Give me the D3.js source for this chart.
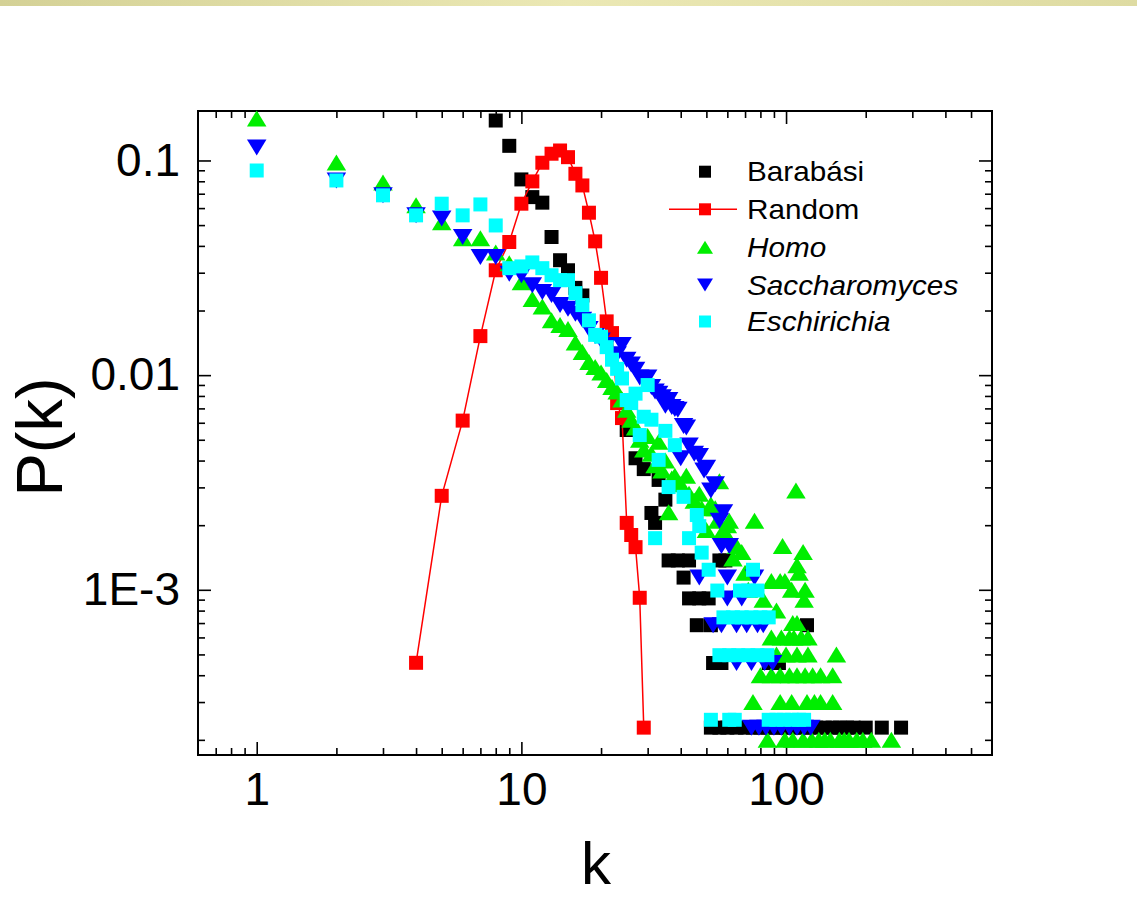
<!DOCTYPE html>
<html>
<head>
<meta charset="utf-8">
<script src="https://cdn.jsdelivr.net/npm/d3@7"></script>
<style>
  body { margin: 0; background: #fff; }
  svg { display: block; }
</style>
</head>
<body>
<svg id="chart" width="1137" height="899"></svg>
<script>
// Degree distributions P(k): each entry is [k, P(k)]
const barabasi = [
  [8,0.1535],[9,0.117],[10,0.0816],[11,0.0675],[12,0.0636],[13,0.044],[14,0.0343],[15,0.0308],
  [16,0.0255],[17,0.0235],[25,0.00555],[27,0.0041],[29,0.00365],[31,0.00228],[32,0.00205],
  [33,0.00325],[35,0.00263],[36,0.00137],[39,0.00137],[43,0.00137],[56,0.00137],[59,0.00137],
  [41,0.00114],[43,0.000912],[47,0.000912],[51,0.000912],[46,0.000684],[52,0.000684],[120,0.000684],
  [53,0.000456],[57,0.000456],[86,0.000456],[94,0.000456],
  [52,0.000228],[56,0.000228],[60,0.000228],[65,0.000228],[70,0.000228],[75,0.000228],[80,0.000228],
  [85,0.000228],[90,0.000228],[95,0.000228],[100,0.000228],[107,0.000228],[115,0.000228],
  [122,0.000228],[130,0.000228],[140,0.000228],[150,0.000228],[160,0.000228],[170,0.000228],
  [180,0.000228],[200,0.000228],[230,0.000228],[272,0.000228]
];

const random = [
  [4,0.000457],[5,0.00274],[6,0.00614],[7,0.0152],[8,0.0308],[9,0.0417],[10,0.0629],[11,0.0799],
  [12,0.0976],[13,0.1075],[14,0.1113],[15,0.1036],[16,0.0867],[17,0.0765],[18,0.0571],[19,0.042],
  [20,0.0284],[21,0.0178],[22,0.0157],[23,0.00741],[24,0.00631],[25,0.00205],[26,0.0018],
  [27,0.00158],[28,0.000918],[29,0.000228]
];

const homo = [
  [1,0.157],[2,0.0979],[3,0.079],[4,0.0618],[5,0.0515],[6,0.0434],[7,0.0434],[8,0.0373],[9,0.0332],
  [10,0.0271],[11,0.0226],[12,0.0209],[13,0.018],[14,0.0171],[15,0.0164],[16,0.0142],[17,0.0128],
  [18,0.0115],[19,0.0109],[20,0.0103],[21,0.0095],[22,0.0088],[23,0.0084],[24,0.0077],[25,0.0069],
  [26,0.0062],[27,0.0057],[28,0.005],[29,0.0045],[30,0.0052],[31,0.0043],[32,0.0038],[33,0.0049],
  [34,0.0036],[35,0.004],[36,0.0023],[37,0.0033],[38,0.0034],[40,0.0031],[42,0.0034],[43,0.0028],
  [45,0.0026],[47,0.0028],[48,0.0024],[50,0.0019],[52,0.0025],[54,0.0024],[55,0.0021],[56,0.0032],
  [58,0.0019],[60,0.002],[61,0.0021],[63,0.0014],[65,0.0016],[68,0.0015],[70,0.0012],[72,0.001],
  [76,0.0021],[97,0.0016],[109,0.0029],[116,0.0015],[110,0.0013],[112,0.0012],
  [88,0.0011],[95,0.0011],[99,0.0011],[105,0.001],[118,0.001],[82,0.0009],[117,0.0009],[92,0.0008],
  [106,0.0007],[110,0.0007],
  [88,0.0006],[96,0.0006],[103,0.0006],[107,0.0006],[114,0.0006],[121,0.0006],
  [92,0.0005],[100,0.0005],[110,0.0005],[121,0.0005],[155,0.0005],
  [80,0.0004],[88,0.0004],[95,0.0004],[103,0.0004],[110,0.0004],[118,0.0004],[126,0.0004],[135,0.0004],[150,0.0004],
  [75,0.0003],[95,0.0003],[105,0.0003],[120,0.0003],[128,0.0003],[135,0.0003],[150,0.0003],
  [85,0.0002],[99,0.0002],[106,0.0002],[116,0.0002],[125,0.0002],[133,0.0002],[140,0.0002],[147,0.0002],
  [159,0.0002],[166,0.0002],[173,0.0002],[185,0.0002],[195,0.0002],[210,0.0002],[250,0.0002]
];

const saccharomyces = [
  [1,0.115],[2,0.0807],[3,0.0688],[4,0.0555],[5,0.0536],[6,0.044],[7,0.0355],[8,0.0355],[9,0.0297],
  [10,0.0292],[11,0.0262],[12,0.0244],[13,0.0236],[14,0.0212],[15,0.0204],[16,0.0193],[17,0.0181],
  [18,0.0164],[19,0.0152],[20,0.0145],[21,0.0138],[22,0.0123],[23,0.0125],[24,0.0138],[25,0.0118],
  [26,0.0112],[27,0.0106],[28,0.00975],[29,0.0095],[30,0.00975],[31,0.0088],[32,0.0084],[33,0.0082],
  [34,0.00788],[35,0.0072],[36,0.00766],[37,0.0071],[38,0.00696],[39,0.0069],[40,0.0041],[41,0.0058],
  [42,0.0057],[43,0.0047],[45,0.0043],[47,0.0042],[49,0.0036],[50,0.0037],[52,0.0029],[54,0.0031],
  [56,0.0021],[57,0.0016],[58,0.0023],[61,0.0016],
  [47,0.00114],[60,0.00114],[76,0.00114],
  [60,0.000912],[68,0.000912],
  [53,0.000684],[57,0.000684],[65,0.000684],[71,0.000684],[78,0.000684],[82,0.000684],
  [65,0.000456],[74,0.000456],[83,0.000456],[89,0.000456],
  [74,0.000228],[79,0.000228],[84,0.000228],[90,0.000228],[96,0.000228],[103,0.000228],
  [110,0.000228],[117,0.000228],[124,0.000228]
];

const eschirichia = [
  [1,0.0898],[2,0.0807],[3,0.0688],[4,0.0555],[5,0.0629],[6,0.0555],[7,0.0624],[8,0.0498],[9,0.0315],
  [10,0.0321],[11,0.0335],[12,0.0315],[13,0.0292],[14,0.0277],[15,0.0277],[16,0.0241],[17,0.0212],
  [18,0.018],[19,0.0154],[20,0.0151],[21,0.0135],[22,0.0118],[23,0.0107],[24,0.00965],[25,0.00766],
  [26,0.00741],[27,0.0082],[28,0.00526],[29,0.0064],[30,0.00899],[31,0.0062],[32,0.00174],[33,0.00403],
  [35,0.0055],[36,0.00301],[38,0.00472],[41,0.00271],[43,0.00174],[46,0.00223],[47,0.00198],[48,0.00149],
  [51,0.00124],[75,0.00124],
  [55,0.000992],[67,0.000992],[72,0.000992],[78,0.000992],
  [58,0.000744],[63,0.000744],[68,0.000744],[74,0.000744],[80,0.000744],[86,0.000744],
  [56,0.000496],[61,0.000496],[66,0.000496],[72,0.000496],[78,0.000496],[85,0.000496],
  [52,0.000248],[61,0.000248],[64,0.000248],[86,0.000248],[92,0.000248],[98,0.000248],
  [105,0.000248],[112,0.000248],[117,0.000248]
];

// Axis ticks and labels
const xMajor = [1, 10, 100];
const xLabels = ["1", "10", "100"];
const xMinor = [0.7, 0.8, 0.9, 2, 3, 4, 5, 6, 7, 8, 9, 20, 30, 40, 50, 60, 70, 80, 90, 200, 300, 400, 500];
const yMajor = [0.001, 0.01, 0.1];
const yLabels = ["1E-3", "0.01", "0.1"];
const yMinor = [2e-4, 3e-4, 4e-4, 5e-4, 6e-4, 7e-4, 8e-4, 9e-4,
                0.002, 0.003, 0.004, 0.005, 0.006, 0.007, 0.008, 0.009,
                0.02, 0.03, 0.04, 0.05, 0.06, 0.07, 0.08, 0.09];

const legendNames = ["Barabási", "Random", "Homo", "Saccharomyces", "Eschirichia"];

const FONT = "'Liberation Sans', Arial, Helvetica, sans-serif";
const svg = d3.select("#chart");
const W = 1137;

// Slide header band
const defs = svg.append("defs");
const grad = defs.append("linearGradient").attr("id", "band").attr("x1", "0").attr("x2", "1");
[["0", "#d4d196"], ["0.5", "#ebe8b4"], ["1", "#dedba2"]].forEach(([o, c]) =>
  grad.append("stop").attr("offset", o).attr("stop-color", c));
svg.append("rect").attr("x", 0).attr("y", 0).attr("width", W).attr("height", 6).attr("fill", "url(#band)");

const plotLeft = 198, plotRight = 992, plotTop = 111, plotBottom = 755;
const x = d3.scaleLog().domain([0.6, 600]).range([plotLeft, plotRight]);
const y = d3.scaleLog().domain([1.7e-4, 0.17]).range([plotBottom, plotTop]);

function styleAxis(g) {
  g.select(".domain").remove();
  g.selectAll(".tick line").attr("stroke", "#000").attr("stroke-width", 1.6);
  g.attr("font-family", FONT).attr("font-size", 46);
  g.selectAll("text").attr("fill", "#000");
}

// bottom
svg.append("g").attr("transform", `translate(0,${plotBottom})`)
  .call(d3.axisBottom(x).tickValues(xMajor).tickFormat((d, i) => xLabels[i]).tickSize(-13).tickPadding(17))
  .call(styleAxis);
svg.append("g").attr("transform", `translate(0,${plotBottom})`)
  .call(d3.axisBottom(x).tickValues(xMinor).tickFormat("").tickSize(-7))
  .call(styleAxis);
// top
svg.append("g").attr("transform", `translate(0,${plotTop})`)
  .call(d3.axisTop(x).tickValues(xMajor).tickFormat("").tickSize(-13))
  .call(styleAxis);
svg.append("g").attr("transform", `translate(0,${plotTop})`)
  .call(d3.axisTop(x).tickValues(xMinor).tickFormat("").tickSize(-7))
  .call(styleAxis);
// left
svg.append("g").attr("transform", `translate(${plotLeft},0)`)
  .call(d3.axisLeft(y).tickValues(yMajor).tickFormat((d, i) => yLabels[i]).tickSize(-13).tickPadding(18))
  .call(styleAxis);
svg.append("g").attr("transform", `translate(${plotLeft},0)`)
  .call(d3.axisLeft(y).tickValues(yMinor).tickFormat("").tickSize(-7))
  .call(styleAxis);
// right
svg.append("g").attr("transform", `translate(${plotRight},0)`)
  .call(d3.axisRight(y).tickValues(yMajor).tickFormat("").tickSize(-13))
  .call(styleAxis);
svg.append("g").attr("transform", `translate(${plotRight},0)`)
  .call(d3.axisRight(y).tickValues(yMinor).tickFormat("").tickSize(-7))
  .call(styleAxis);

// frame
svg.append("rect").attr("x", plotLeft).attr("y", plotTop)
  .attr("width", plotRight - plotLeft).attr("height", plotBottom - plotTop)
  .attr("fill", "none").attr("stroke", "#000").attr("stroke-width", 2);

// marker shapes
const square = s => `M${-s/2},${-s/2}H${s/2}V${s/2}H${-s/2}Z`;
const triUp = (w, h) => `M0,${-h/2}L${w/2},${h/2}L${-w/2},${h/2}Z`;
const triDown = (w, h) => `M0,${h/2}L${w/2},${-h/2}L${-w/2},${-h/2}Z`;

const series = [
  { data: barabasi, color: "#000000", shape: square(14), lshape: square(12) },
  { data: random, color: "#ff0000", shape: square(14), lshape: square(12), line: true },
  { data: homo, color: "#00ee00", shape: triUp(19.5, 16), lshape: triUp(16, 13) },
  { data: saccharomyces, color: "#0000ff", shape: triDown(19.5, 16), lshape: triDown(16, 13) },
  { data: eschirichia, color: "#00ffff", shape: square(14), lshape: square(12) }
];

const plot = svg.append("g");
series.forEach(s => {
  if (s.line) {
    plot.append("path").datum(s.data)
      .attr("d", d3.line().x(d => x(d[0])).y(d => y(d[1])))
      .attr("fill", "none").attr("stroke", s.color).attr("stroke-width", 1.5);
  }
  plot.append("g").selectAll("path").data(s.data).join("path")
    .attr("transform", d => `translate(${x(d[0])},${y(d[1])})`)
    .attr("d", s.shape).attr("fill", s.color);
});

// legend
const legend = svg.append("g");
const rowY = [171.7, 209.3, 247.3, 285, 321.5];
series.forEach((s, i) => {
  const cy = rowY[i];
  if (s.line) {
    legend.append("line").attr("x1", 669).attr("x2", 737).attr("y1", cy).attr("y2", cy)
      .attr("stroke", s.color).attr("stroke-width", 1.5);
  }
  legend.append("path").attr("transform", `translate(705,${cy})`).attr("d", s.lshape).attr("fill", s.color);
  legend.append("text")
    .attr("transform", `translate(747,${cy + 9.5}) scale(1.1,1)`)
    .attr("font-family", FONT).attr("font-size", 27)
    .attr("font-style", i >= 2 ? "italic" : "normal")
    .attr("fill", "#000")
    .text(legendNames[i]);
});

// axis titles
svg.append("text").attr("transform", "translate(62,437) rotate(-90)")
  .attr("text-anchor", "middle").attr("font-family", FONT).attr("font-size", 65).attr("fill", "#000")
  .text("P(k)");
svg.append("text").attr("x", 596).attr("y", 884)
  .attr("text-anchor", "middle").attr("font-family", FONT).attr("font-size", 60).attr("fill", "#000")
  .text("k");
</script>
</body>
</html>
